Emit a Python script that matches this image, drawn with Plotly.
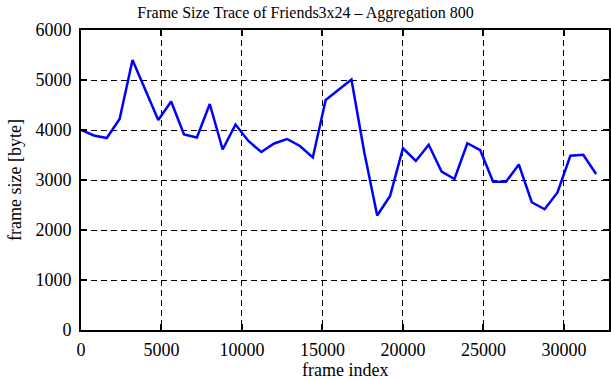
import plotly.graph_objects as go

frame_index = [i * 800 for i in range(41)]
frame_size = [4000, 3890, 3840, 4220, 5400, 4800, 4200, 4570, 3910, 3850,
              4520, 3610, 4110, 3780, 3560, 3730, 3820, 3680, 3450, 4600,
              4800, 5010, 3550, 2290, 2680, 3635, 3380, 3705, 3170, 3020,
              3735, 3595, 2965, 2965, 3310, 2555, 2415, 2750, 3485, 3505, 3120]

x_ticks = [0, 5000, 10000, 15000, 20000, 25000, 30000]
y_ticks = [0, 1000, 2000, 3000, 4000, 5000, 6000]

FONT = "Liberation Serif, Times New Roman, serif"

fig = go.Figure()
fig.add_trace(go.Scatter(x=frame_index, y=frame_size, mode="lines",
                         line=dict(color="#0000ff", width=2.5), showlegend=False))

axis_common = dict(
    showline=True, linecolor="black", linewidth=2, mirror="ticks",
    ticks="inside", ticklen=6, tickcolor="black", tickwidth=1.5,
    showgrid=True, gridcolor="black", gridwidth=1, griddash="6px,4px",
    zeroline=False, automargin=False,
    tickfont=dict(family=FONT, size=18, color="black"),
)

fig.update_xaxes(range=[0, 32800], tickvals=x_ticks, ticktext=[str(v) for v in x_ticks],
                 ticklabelstandoff=2, **axis_common)
fig.update_yaxes(range=[0, 6000], tickvals=y_ticks, ticktext=[str(v) for v in y_ticks],
                 ticklabelstandoff=4, **axis_common)

fig.update_layout(
    width=611, height=380,
    margin=dict(l=81, r=2, t=30, b=50, autoexpand=False),
    paper_bgcolor="white", plot_bgcolor="white",
    title=dict(text="Frame Size Trace of Friends3x24 – Aggregation 800",
               font=dict(family=FONT, size=16, color="black"),
               x=0.5, xanchor="center", y=1 - 12 / 380, yanchor="middle"),
    annotations=[
        dict(text="frame index", xref="paper", yref="paper", x=0.5, y=-40 / 300,
             xanchor="center", yanchor="middle", showarrow=False,
             font=dict(family=FONT, size=18, color="black")),
        dict(text="frame size [byte]", xref="paper", yref="paper", x=-66 / 528, y=0.5,
             xanchor="center", yanchor="middle", showarrow=False, textangle=-90,
             font=dict(family=FONT, size=18, color="black")),
    ],
)

fig.write_html("out.html", config={"displayModeBar": False},
               post_script="document.body.style.margin='0';document.body.style.padding='0';")
